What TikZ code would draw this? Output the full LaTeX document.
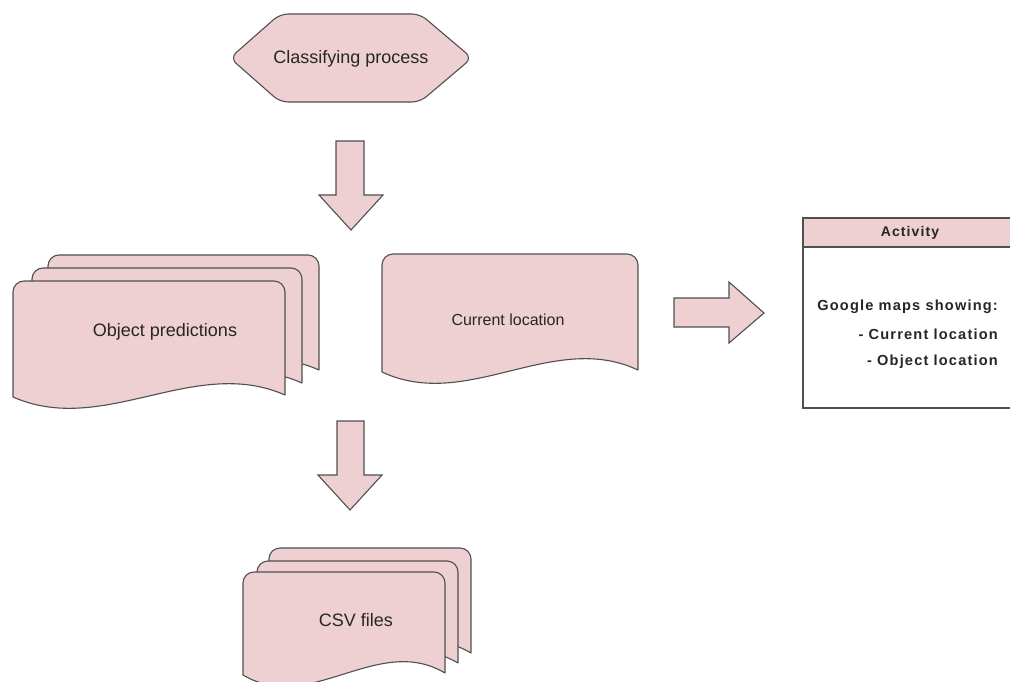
\documentclass[tikz,border=0pt]{standalone}
\usepackage{fontspec}
\setmainfont{Liberation Sans}
\newfontfamily\spacedbold[LetterSpace=8,BoldFont={Liberation Sans Bold}]{Liberation Sans}
\definecolor{sheetfill}{RGB}{238,208,210}
\definecolor{edge}{RGB}{80,80,80}
\tikzset{
  shapebody/.style={fill=sheetfill, draw=edge, line width=1.1pt, line join=round},
  blockarrow/.style={shapebody, line join=miter},
  label/.style={inner sep=0pt, font=\fontsize{18}{21}\selectfont, text=black!85},
  actlabel/.style={inner sep=0pt, font=\spacedbold\bfseries\fontsize{14}{16}\selectfont, text=black!85},
  actline/.style={actlabel, anchor=east, font=\spacedbold\bfseries\fontsize{14.6}{17}\selectfont},
}
% document sheet: left, top, right, bottom at the right end
% (the y axis points down, so the corner arcs use negative angles)
\newcommand\docsheet[4]{%
  \filldraw[shapebody]
    ({#3},{#4}) -- ({#3},{#2+11})
    arc[start angle=0, end angle=-90, radius=11] -- ({#1+11},{#2})
    arc[start angle=-90, end angle=-180, radius=11] -- ({#1},{#4+2})
    .. controls ({#1+(#3-#1)/3},{#4+42}) and ({#3-(#3-#1)/3},{#4-40}) .. cycle;}
\begin{document}
\begin{tikzpicture}[x=1pt,y=-1pt]
\useasboundingbox (0,0) rectangle (1010,682);
\clip (0,0) rectangle (1010,682);

% classifying process
\filldraw[shapebody, rounded corners=8]
  (230,58) -- (280,14) -- (420,14) -- (472,58) -- (420,102) -- (280,102) -- cycle;
\node[label] (classify) at (351,59) {Classifying process};

% arrow down to the predictions
\filldraw[blockarrow] (336,141) -- (364,141) -- (364,195) -- (383,195) -- (351,230)
  -- (319,195) -- (336,195) -- cycle;

% object predictions (stack of sheets)
\docsheet{48}{255}{319}{370}
\docsheet{32}{268}{302}{383}
\docsheet{13}{281}{285}{395}
\node[label] (pred) at (165,332) {Object predictions};

% current location
\docsheet{382}{254}{638}{370}
\node[label, font=\fontsize{16}{19}\selectfont] (curloc) at (508,320) {Current location};

% arrow right to the activity
\filldraw[blockarrow] (674,298) -- (729,298) -- (729,282) -- (764,313) -- (729,343)
  -- (729,327) -- (674,327) -- cycle;

% activity box
\filldraw[fill=white, draw=edge, line width=1.1pt] (803,218) rectangle (1016,408);
\filldraw[shapebody, line join=miter] (803,218) rectangle (1016,247);
\node[actlabel] (acttitle) at (910,233) {Activity};
\node[actline] (act1) at (998,307) {Google maps showing:};
\node[actline] (act2) at (998,334) {- Current location};
\node[actline] (act3) at (998,362) {- Object location};

% arrow down to the csv files
\filldraw[blockarrow] (337,421) -- (364,421) -- (364,475) -- (382,475) -- (350,510)
  -- (318,475) -- (337,475) -- cycle;

% csv files (stack of sheets)
\docsheet{269}{548}{471}{653}
\docsheet{257}{561}{458}{663}
\docsheet{243}{572}{445}{673}
\node[label] (csv) at (356,620) {CSV files};
\end{tikzpicture}
\end{document}
